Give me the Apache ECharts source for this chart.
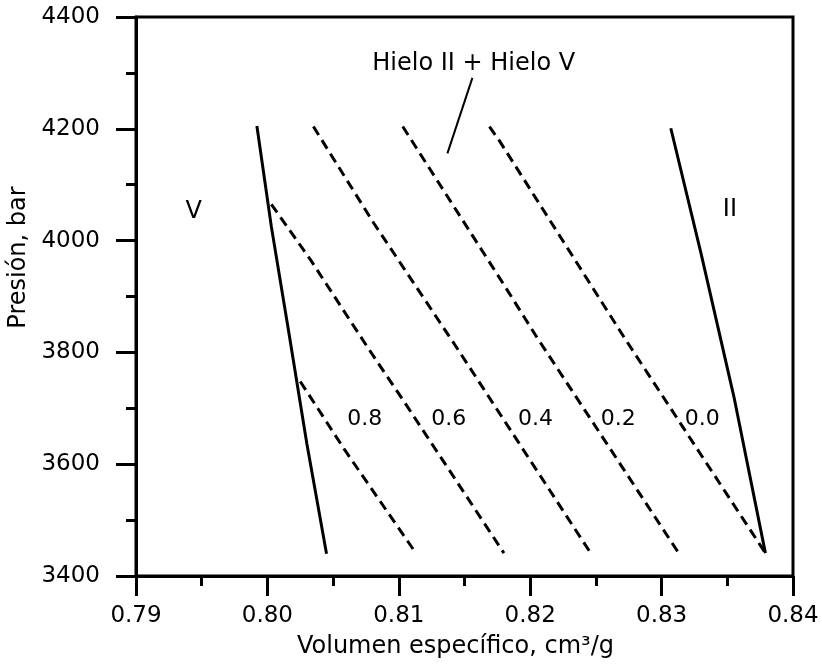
<!DOCTYPE html>
<html>
<head>
<meta charset="utf-8">
<script src="https://cdn.jsdelivr.net/npm/echarts@6/dist/echarts.min.js"></script>
<style>html,body{margin:0;padding:0;background:#fff;}#c{width:822px;height:668px;}</style>
</head>
<body>
<div id="c"></div>
<script>
// ---- data ----
const solidV  = [[0.7992,4205],[0.8003,4025],[0.8016,3840],[0.8030,3637],[0.8045,3440]];
const solidII = [[0.8307,4201],[0.8330,3977],[0.8355,3721],[0.8379,3441]];
const dash08 = [[0.8025,3748],[0.8059,3625],[0.8113,3441]];
const dash06 = [[0.8003,4065],[0.8033,3965],[0.8076,3810],[0.8104,3712],[0.8180,3441]];
const dash04 = [[0.8035,4204],[0.8081,4031],[0.8142,3816],[0.8190,3643],[0.8246,3441]];
const dash02 = [[0.8103,4204],[0.8180,3921],[0.8204,3831],[0.8313,3441]];
const dash00 = [[0.8169,4204],[0.8177,4177],[0.8272,3825],[0.8379,3441]];
const leader = [[0.8156,4291],[0.8137,4156]];
const fracNames = ['0.8','0.6','0.4','0.2','0.0'];
const fracX = [0.8074,0.8138,0.8204,0.8267,0.8331];
const fracY = [3680,3680,3680,3680,3680];
const regionNames = ['V','II','Hielo II + Hielo V'];
const regionX = [0.7944,0.8352,0.8157];
const regionY = [4051,4055,4316];
const xMin = 0.79, xMax = 0.84, xStep = 0.01;
const yMin = 3400, yMax = 4400, yStep = 200;
const xTitle = 'Volumen específico, cm³/g';
const yTitle = 'Presión, bar';

const FONT = 'DejaVu Sans';
const chart = echarts.init(document.getElementById('c'), null, {renderer:'canvas'});

function lineSeries(data, dashed, width){
  return {type:'line', data:data, symbol:'none', silent:true, animation:false,
    lineStyle:{color:'#000', width:width, type: dashed ? [10,6] : 'solid', cap:'butt'}, z:3};
}
function labelSeries(names, xs, ys, size){
  return {type:'scatter', symbolSize:1, animation:false, silent:true,
    itemStyle:{color:'#fff', opacity:0},
    data: names.map((n,i)=>({name:n, value:[xs[i], ys[i]]})),
    label:{show:true, position:'inside', formatter:p=>p.name, color:'#000', opacity:1,
      textBorderWidth:0, fontFamily:FONT, fontSize:size}, z:4};
}

const axisCommon = {
  axisLine:{show:true, lineStyle:{color:'#000', width:3}},
  axisTick:{show:true, length:20, lineStyle:{color:'#000', width:3}},
  minorTick:{show:true, splitNumber:2, length:10, lineStyle:{color:'#000', width:3}},
  splitLine:{show:false},
};

chart.setOption({
  backgroundColor:'#fff',
  animation:false,
  grid:{left:136, right:29, top:17, bottom:92, show:true, borderColor:'#000', borderWidth:3,
    containLabel:false, outerBoundsMode:'none'},
  xAxis:Object.assign({type:'value', min:xMin, max:xMax, interval:xStep,
    name:xTitle, nameLocation:'middle', nameGap:59,
    nameTextStyle:{fontFamily:FONT, fontSize:24, color:'#000', padding:[0,18,0,0]},
    axisLabel:{fontFamily:FONT, fontSize:23, color:'#000', margin:29,
      formatter:v=>v.toFixed(2)}}, axisCommon),
  yAxis:Object.assign({type:'value', min:yMin, max:yMax, interval:yStep,
    name:yTitle, nameLocation:'middle', nameGap:105, nameRotate:90,
    nameTextStyle:{fontFamily:FONT, fontSize:24, color:'#000', padding:[0,0,0,78]},
    axisLabel:{fontFamily:FONT, fontSize:23, color:'#000', margin:36,
      formatter:v=>String(Math.round(v))}}, axisCommon),
  series:[
    lineSeries(solidV,false,3),
    lineSeries(solidII,false,3),
    lineSeries(dash08,true,3),
    lineSeries(dash06,true,3),
    lineSeries(dash04,true,3),
    lineSeries(dash02,true,3),
    lineSeries(dash00,true,3),
    lineSeries(leader,false,2),
    labelSeries(fracNames, fracX, fracY, 22),
    labelSeries(regionNames, regionX, regionY, 24)
  ]
});
</script>
</body>
</html>
